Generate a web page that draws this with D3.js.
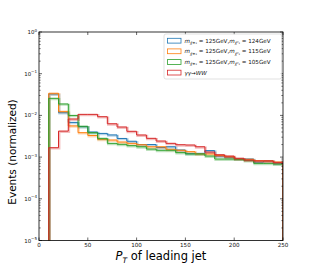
<!DOCTYPE html>
<html><head><meta charset="utf-8">
<script src="https://cdn.jsdelivr.net/npm/d3@7"></script>
<style>body{margin:0;background:#fff}svg{display:block}text{font-family:"DejaVu Sans",sans-serif}</style>
</head><body><svg id="c" width="315" height="270"></svg>
<script>
const binEdges = [10,20,30,40,50,60,70,80,90,100,110,120,130,140,150,160,170,180,190,200,210,220,230,240,250];
const seriesNames = ["s124","s115","s105","ww"];
const blueVals = [0.0326,0.0116,0.0068,0.0054,0.0040,0.0037,0.0034,0.0028,0.0024,0.0020,0.0020,0.0017,0.00177,0.00148,0.00123,0.00123,0.00143,0.00106,0.00099,0.0009,0.0009,0.00076,0.00081,0.00071];
const orangeVals = [0.034,0.0125,0.0056,0.00385,0.0033,0.00267,0.00257,0.0023,0.00214,0.00198,0.00177,0.00177,0.00154,0.00146,0.00135,0.00119,0.00119,0.0011,0.00102,0.0009,0.00089,0.00082,0.00081,0.00076];
const greenVals = [0.0257,0.0188,0.0100,0.0055,0.00385,0.00282,0.00214,0.00203,0.00188,0.00177,0.00156,0.00146,0.00146,0.00128,0.00119,0.00119,0.00106,0.0009,0.0009,0.00089,0.00082,0.00071,0.00071,0.00068];
const redVals = [0.00168,0.0042,0.0082,0.0106,0.0106,0.0093,0.0063,0.00527,0.00416,0.00339,0.00282,0.00243,0.00214,0.00198,0.00195,0.00177,0.00132,0.00114,0.00106,0.00094,0.00085,0.00081,0.00081,0.00075];
const xTicks = [0,50,100,150,200,250];
const yExps = [-5,-4,-3,-2,-1,0];
const colors = ["#1f77b4","#ff7f0e","#2ca02c","#d62728"];

const svg = d3.select("#c");
const L=39,R=283,T=32,B=240.5;
const x = d3.scaleLinear().domain([0,250]).range([L,R]);
const y = d3.scaleLog().domain([1e-5,1]).range([B,T]);

svg.append("defs").append("clipPath").attr("id","clip").append("rect")
  .attr("x",L).attr("y",T).attr("width",R-L).attr("height",B-T);

const allVals=[blueVals,orangeVals,greenVals,redVals];
const g = svg.append("g").attr("clip-path","url(#clip)");
allVals.forEach((vals,i)=>{
  const pts=[[binEdges[0],1e-5]];
  vals.forEach((v,k)=>{pts.push([binEdges[k],v]);pts.push([binEdges[k+1],v]);});
  pts.push([binEdges[binEdges.length-1],1e-5]);
  const line=d3.line().x(d=>x(d[0])).y(d=>y(d[1]));
  g.append("path").attr("d",line(pts)).attr("fill","none").attr("stroke",colors[i])
    .attr("stroke-width",2.2).attr("stroke-opacity",0.3).attr("transform","translate(0.8,0.8)");
  g.append("path").attr("d",line(pts)).attr("fill","none").attr("stroke",colors[i])
    .attr("stroke-width",1.0);
});

// frame
svg.append("rect").attr("x",L).attr("y",T).attr("width",R-L).attr("height",B-T)
  .attr("fill","none").attr("stroke","#000").attr("stroke-width",0.8);

// x ticks (inward, bottom & top)
xTicks.forEach(t=>{
  svg.append("line").attr("x1",x(t)).attr("x2",x(t)).attr("y1",B).attr("y2",B-3).attr("stroke","#000").attr("stroke-width",0.6);
  svg.append("line").attr("x1",x(t)).attr("x2",x(t)).attr("y1",T).attr("y2",T+3).attr("stroke","#000").attr("stroke-width",0.6);
  svg.append("text").attr("x",x(t)).attr("y",B+6.5).attr("text-anchor","middle").attr("font-size",5.6).attr("fill","#111").text(t);
});
// y ticks
yExps.forEach(e=>{
  const yy=y(Math.pow(10,e));
  [[L,L+3],[R,R-3]].forEach(([a,b])=>svg.append("line").attr("x1",a).attr("x2",b).attr("y1",yy).attr("y2",yy).attr("stroke","#000").attr("stroke-width",0.6));
  const tx=svg.append("text").attr("x",L-2).attr("y",yy+2).attr("text-anchor","end").attr("font-size",5.4).attr("fill","#111");
  tx.append("tspan").text("10");
  tx.append("tspan").attr("dy",-2.4).attr("font-size",4).text(e===0?"0":"\u2212"+(-e));
  if(e<0){for(let m=2;m<10;m++){const ym=y(m*Math.pow(10,e));
    [[L,L+1.7],[R,R-1.7]].forEach(([a,b])=>svg.append("line").attr("x1",a).attr("x2",b).attr("y1",ym).attr("y2",ym).attr("stroke","#000").attr("stroke-width",0.5));}}
});

// axis labels
const yl=svg.append("text").attr("transform","translate(16,152) rotate(-90)").attr("text-anchor","middle")
  .attr("font-size",10.5).attr("fill","#000").text("Events (normalized)");
const xl=svg.append("text").attr("x",161).attr("y",260).attr("text-anchor","middle").attr("font-size",11.5).attr("fill","#000");
xl.append("tspan").attr("font-style","italic").text("P");
xl.append("tspan").attr("font-style","italic").attr("font-size",7.5).attr("dy",2.5).text("T");
xl.append("tspan").attr("dy",-2.5).text(" of leading jet");

// legend
const lg=svg.append("g");
lg.append("rect").attr("x",164).attr("y",34).attr("width",117.5).attr("height",45).attr("rx",2)
  .attr("fill","#fff").attr("fill-opacity",0.85).attr("stroke","#ccc").attr("stroke-width",0.6);
const labels=[["125GeV","124GeV"],["125GeV","115GeV"],["125GeV","105GeV"],null];
const rowY=[40.7,51.3,62,72.6];
rowY.forEach((ry,i)=>{
  lg.append("rect").attr("x",167.5).attr("y",ry-2.4).attr("width",13.5).attr("height",4.8)
    .attr("fill","none").attr("stroke",colors[i]).attr("stroke-width",0.8);
  const t=lg.append("text").attr("x",184.5).attr("y",ry+2).attr("font-size",5.6).attr("fill","#111");
  if(labels[i]){
    t.append("tspan").attr("font-style","italic").text("m");
    t.append("tspan").attr("font-size",3.8).attr("dy",1.4).attr("font-style","italic").text("\u03c7\u0303\u00b1\u2081");
    t.append("tspan").attr("dy",-1.4).text(" = "+labels[i][0]+",");
    t.append("tspan").attr("font-style","italic").text("m");
    t.append("tspan").attr("font-size",3.8).attr("dy",1.4).attr("font-style","italic").text("\u03c7\u0303\u2070\u2081");
    t.append("tspan").attr("dy",-1.4).text(" = "+labels[i][1]);
  } else {
    t.append("tspan").attr("font-style","italic").text("\u03b3\u03b3\u2192WW");
  }
});
</script></body></html>
